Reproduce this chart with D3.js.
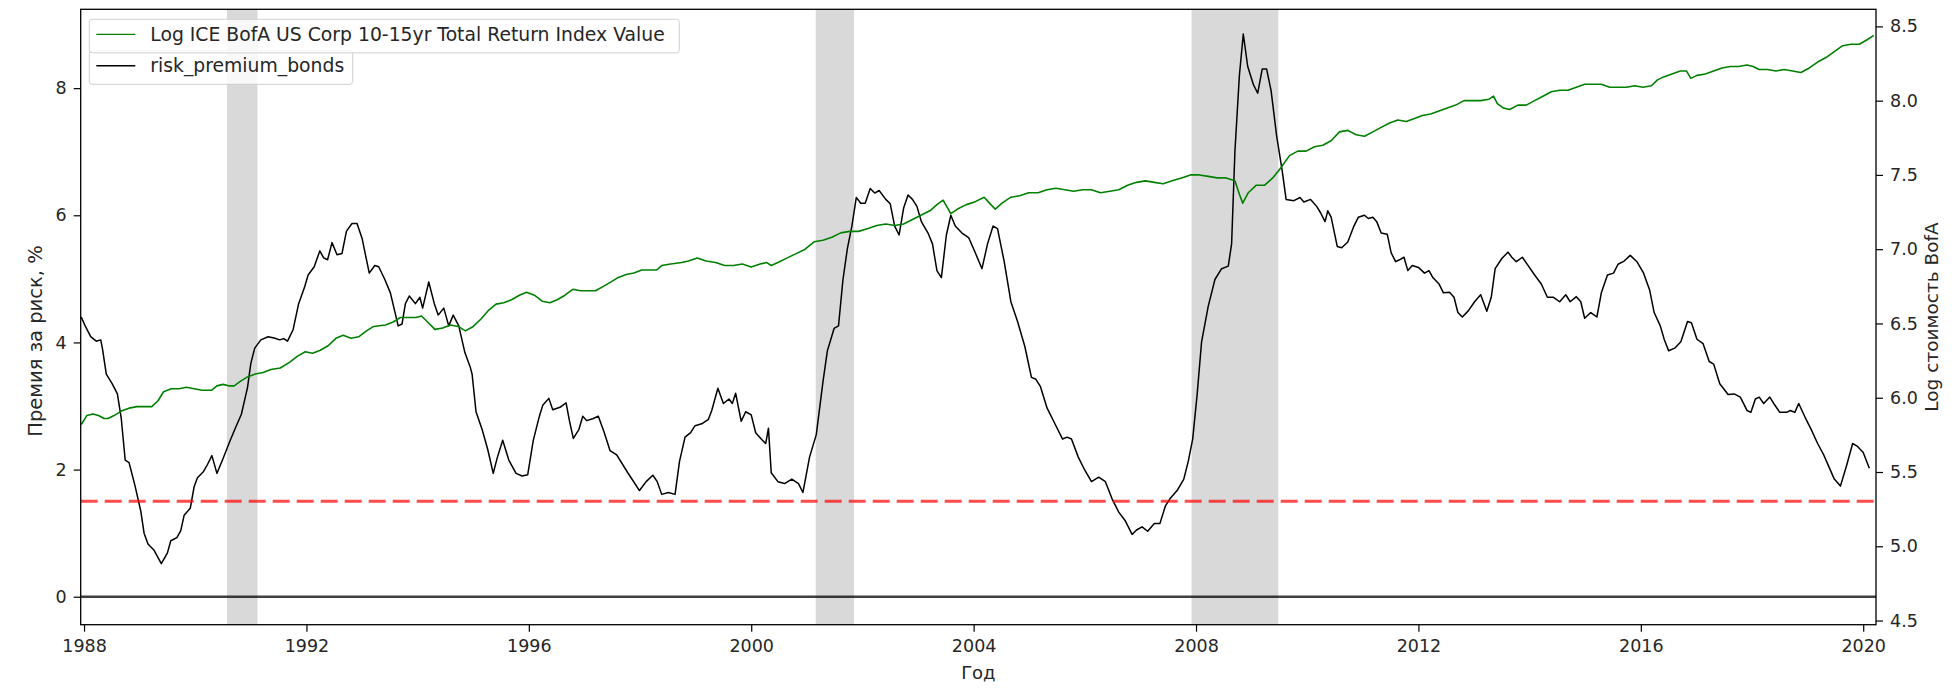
<!DOCTYPE html>
<html>
<head>
<meta charset="utf-8">
<script src="https://cdn.jsdelivr.net/npm/d3@7"></script>
<style>
    body { margin: 0; background: #fff; }
    svg text { font-family: "DejaVu Sans", sans-serif; fill: #262626; }
</style>
</head>
<body>
<svg id="chart_svg" width="1960" height="690"></svg>
<script>
"use strict"

const xTickYears = [1988, 1992, 1996, 2000, 2004, 2008, 2012, 2016, 2020];
const leftTicks = [0, 2, 4, 6, 8];
const rightTicks = [4.5, 5.0, 5.5, 6.0, 6.5, 7.0, 7.5, 8.0, 8.5];

// NBER recessions (decimal years)
const recessionStart = [1990.57, 2001.16, 2007.92];
const recessionEnd = [1991.12, 2001.85, 2009.48];

const premiumThreshold = 1.5;

// risk_premium_bonds, % : [year, value]
const riskPremium = [
    [1987.95, 4.40], [1988.02, 4.26], [1988.12, 4.09], [1988.22, 4.02], [1988.30, 4.04], [1988.33, 3.91],
    [1988.40, 3.50], [1988.50, 3.36], [1988.60, 3.19], [1988.67, 2.80], [1988.74, 2.15], [1988.81, 2.11],
    [1988.91, 1.77], [1989.02, 1.35], [1989.08, 1.00], [1989.15, 0.83], [1989.26, 0.73], [1989.39, 0.52],
    [1989.50, 0.69], [1989.56, 0.88], [1989.67, 0.93], [1989.74, 1.04], [1989.80, 1.28], [1989.91, 1.39],
    [1989.98, 1.73], [1990.04, 1.87], [1990.15, 1.97], [1990.22, 2.08], [1990.30, 2.22], [1990.39, 1.94],
    [1990.49, 2.15], [1990.63, 2.46], [1990.73, 2.67], [1990.83, 2.87], [1990.94, 3.29], [1991.00, 3.67],
    [1991.07, 3.91], [1991.18, 4.04], [1991.31, 4.09], [1991.42, 4.07], [1991.52, 4.04], [1991.59, 4.06],
    [1991.66, 4.02], [1991.76, 4.20], [1991.86, 4.61], [1991.97, 4.88], [1992.03, 5.06], [1992.14, 5.19],
    [1992.24, 5.44], [1992.31, 5.33], [1992.38, 5.30], [1992.46, 5.57], [1992.55, 5.38], [1992.64, 5.40],
    [1992.72, 5.75], [1992.82, 5.87], [1992.91, 5.87], [1993.00, 5.64], [1993.13, 5.09], [1993.23, 5.21],
    [1993.30, 5.19], [1993.41, 4.99], [1993.51, 4.78], [1993.65, 4.26], [1993.72, 4.29], [1993.78, 4.61],
    [1993.85, 4.73], [1993.96, 4.61], [1994.04, 4.71], [1994.09, 4.54], [1994.20, 4.95], [1994.30, 4.61],
    [1994.37, 4.43], [1994.47, 4.54], [1994.56, 4.26], [1994.64, 4.43], [1994.74, 4.26], [1994.85, 3.84],
    [1994.95, 3.60], [1994.98, 3.50], [1995.05, 2.91], [1995.16, 2.63], [1995.26, 2.32], [1995.36, 1.94],
    [1995.43, 2.18], [1995.53, 2.46], [1995.64, 2.15], [1995.77, 1.94], [1995.88, 1.90], [1995.98, 1.92],
    [1996.08, 2.46], [1996.19, 2.84], [1996.25, 3.01], [1996.36, 3.12], [1996.43, 2.94], [1996.56, 2.98],
    [1996.67, 3.05], [1996.73, 2.77], [1996.80, 2.49], [1996.90, 2.63], [1996.97, 2.84], [1997.04, 2.77],
    [1997.15, 2.80], [1997.25, 2.84], [1997.35, 2.60], [1997.46, 2.30], [1997.58, 2.23], [1997.78, 1.95],
    [1997.99, 1.67], [1998.11, 1.81], [1998.23, 1.91], [1998.31, 1.81], [1998.39, 1.61], [1998.51, 1.64],
    [1998.63, 1.61], [1998.71, 2.13], [1998.81, 2.51], [1998.91, 2.58], [1998.99, 2.69], [1999.11, 2.72],
    [1999.23, 2.79], [1999.29, 2.93], [1999.40, 3.28], [1999.50, 3.04], [1999.60, 3.11], [1999.66, 3.04],
    [1999.72, 3.20], [1999.82, 2.76], [1999.90, 2.91], [2000.00, 2.86], [2000.08, 2.58], [2000.18, 2.48],
    [2000.26, 2.41], [2000.31, 2.65], [2000.36, 1.95], [2000.48, 1.81], [2000.60, 1.78], [2000.73, 1.85],
    [2000.85, 1.78], [2000.93, 1.64], [2001.05, 2.20], [2001.17, 2.55], [2001.29, 3.38], [2001.37, 3.87],
    [2001.49, 4.22], [2001.57, 4.26], [2001.65, 4.99], [2001.73, 5.48], [2001.81, 5.83], [2001.89, 6.28],
    [2001.97, 6.19], [2002.05, 6.19], [2002.14, 6.42], [2002.22, 6.35], [2002.30, 6.39], [2002.42, 6.25],
    [2002.50, 6.18], [2002.58, 5.83], [2002.66, 5.69], [2002.74, 6.11], [2002.82, 6.32], [2002.90, 6.25],
    [2002.98, 6.14], [2003.06, 5.90], [2003.18, 5.72], [2003.26, 5.55], [2003.34, 5.13], [2003.42, 5.02],
    [2003.51, 5.69], [2003.59, 6.00], [2003.67, 5.83], [2003.79, 5.72], [2003.91, 5.65], [2004.03, 5.41],
    [2004.15, 5.16], [2004.25, 5.55], [2004.35, 5.83], [2004.43, 5.79], [2004.55, 5.27], [2004.67, 4.64],
    [2004.79, 4.33], [2004.92, 3.94], [2005.04, 3.45], [2005.12, 3.42], [2005.20, 3.31], [2005.32, 2.97],
    [2005.48, 2.69], [2005.60, 2.48], [2005.68, 2.51], [2005.76, 2.48], [2005.88, 2.20], [2006.00, 1.99],
    [2006.12, 1.81], [2006.25, 1.88], [2006.37, 1.81], [2006.49, 1.54], [2006.61, 1.33], [2006.73, 1.19],
    [2006.85, 0.98], [2006.93, 1.05], [2007.03, 1.10], [2007.13, 1.03], [2007.25, 1.15], [2007.35, 1.15],
    [2007.45, 1.43], [2007.53, 1.54], [2007.66, 1.67], [2007.78, 1.85], [2007.86, 2.13], [2007.94, 2.48],
    [2008.02, 3.18], [2008.10, 4.01], [2008.22, 4.57], [2008.34, 4.99], [2008.46, 5.16], [2008.58, 5.20],
    [2008.64, 5.55], [2008.70, 7.01], [2008.78, 8.20], [2008.85, 8.85], [2008.93, 8.34], [2009.03, 8.06],
    [2009.11, 7.92], [2009.19, 8.30], [2009.27, 8.30], [2009.35, 7.96], [2009.45, 7.25], [2009.55, 6.70],
    [2009.62, 6.25], [2009.76, 6.23], [2009.87, 6.28], [2009.94, 6.21], [2010.06, 6.25], [2010.17, 6.14],
    [2010.24, 6.04], [2010.32, 5.90], [2010.37, 6.07], [2010.43, 5.97], [2010.54, 5.51], [2010.62, 5.49],
    [2010.73, 5.58], [2010.84, 5.83], [2010.92, 5.97], [2011.03, 6.00], [2011.10, 5.95], [2011.18, 5.97],
    [2011.25, 5.90], [2011.33, 5.72], [2011.44, 5.70], [2011.51, 5.41], [2011.59, 5.27], [2011.66, 5.30],
    [2011.74, 5.34], [2011.81, 5.13], [2011.89, 5.21], [2012.00, 5.18], [2012.11, 5.09], [2012.19, 5.13],
    [2012.26, 5.02], [2012.37, 4.92], [2012.45, 4.78], [2012.56, 4.79], [2012.64, 4.71], [2012.71, 4.47],
    [2012.79, 4.40], [2012.90, 4.50], [2013.01, 4.64], [2013.12, 4.75], [2013.23, 4.49], [2013.31, 4.71],
    [2013.38, 5.16], [2013.50, 5.32], [2013.61, 5.42], [2013.68, 5.34], [2013.76, 5.27], [2013.87, 5.34],
    [2013.98, 5.20], [2014.09, 5.06], [2014.21, 4.92], [2014.32, 4.71], [2014.43, 4.71], [2014.54, 4.64],
    [2014.65, 4.75], [2014.73, 4.64], [2014.84, 4.72], [2014.92, 4.64], [2014.99, 4.38], [2015.10, 4.47],
    [2015.21, 4.40], [2015.29, 4.78], [2015.40, 5.06], [2015.51, 5.09], [2015.59, 5.23], [2015.70, 5.28],
    [2015.81, 5.37], [2015.93, 5.27], [2016.05, 5.09], [2016.16, 4.82], [2016.24, 4.47], [2016.35, 4.26],
    [2016.42, 4.05], [2016.50, 3.87], [2016.61, 3.91], [2016.72, 4.01], [2016.84, 4.33], [2016.91, 4.31],
    [2017.01, 4.05], [2017.12, 3.98], [2017.23, 3.70], [2017.31, 3.66], [2017.42, 3.35], [2017.57, 3.18],
    [2017.68, 3.19], [2017.79, 3.14], [2017.91, 2.93], [2017.98, 2.90], [2018.06, 3.11], [2018.13, 3.14],
    [2018.21, 3.04], [2018.32, 3.14], [2018.39, 3.04], [2018.50, 2.90], [2018.62, 2.90], [2018.69, 2.93],
    [2018.77, 2.90], [2018.84, 3.04], [2018.95, 2.83], [2019.07, 2.62], [2019.18, 2.41], [2019.29, 2.23],
    [2019.36, 2.09], [2019.48, 1.85], [2019.59, 1.74], [2019.70, 2.06], [2019.81, 2.41], [2019.89, 2.37],
    [2020.00, 2.27], [2020.11, 2.02]
];

// Log ICE BofA US Corp 10-15yr Total Return Index Value : [year, value]
const bofaLog = [
    [1987.95, 5.82], [1988.05, 5.88], [1988.16, 5.89], [1988.26, 5.88], [1988.36, 5.86], [1988.43, 5.86],
    [1988.54, 5.88], [1988.67, 5.91], [1988.81, 5.93], [1988.95, 5.94], [1989.09, 5.94], [1989.22, 5.94],
    [1989.33, 5.98], [1989.43, 6.04], [1989.57, 6.06], [1989.71, 6.06], [1989.84, 6.07], [1989.98, 6.06],
    [1990.12, 6.05], [1990.29, 6.05], [1990.39, 6.08], [1990.50, 6.09], [1990.60, 6.08], [1990.70, 6.08],
    [1990.81, 6.11], [1990.94, 6.14], [1991.08, 6.16], [1991.22, 6.17], [1991.36, 6.19], [1991.53, 6.20],
    [1991.70, 6.24], [1991.84, 6.28], [1991.98, 6.31], [1992.11, 6.30], [1992.25, 6.32], [1992.39, 6.35],
    [1992.53, 6.40], [1992.66, 6.42], [1992.80, 6.40], [1992.94, 6.41], [1993.08, 6.45], [1993.21, 6.48],
    [1993.42, 6.49], [1993.56, 6.51], [1993.69, 6.54], [1993.83, 6.54], [1993.97, 6.54], [1994.07, 6.55],
    [1994.18, 6.51], [1994.31, 6.46], [1994.45, 6.47], [1994.59, 6.49], [1994.73, 6.48], [1994.86, 6.45],
    [1995.00, 6.48], [1995.14, 6.53], [1995.28, 6.59], [1995.41, 6.63], [1995.55, 6.64], [1995.69, 6.66],
    [1995.83, 6.69], [1995.96, 6.71], [1996.10, 6.69], [1996.24, 6.65], [1996.38, 6.64], [1996.51, 6.66],
    [1996.65, 6.69], [1996.79, 6.73], [1996.93, 6.72], [1997.06, 6.72], [1997.20, 6.72], [1997.34, 6.75],
    [1997.48, 6.78], [1997.61, 6.81], [1997.75, 6.83], [1997.89, 6.84], [1998.03, 6.86], [1998.16, 6.86],
    [1998.30, 6.86], [1998.39, 6.89], [1998.55, 6.90], [1998.75, 6.91], [1998.87, 6.92], [1999.03, 6.94],
    [1999.19, 6.92], [1999.36, 6.91], [1999.52, 6.89], [1999.68, 6.89], [1999.84, 6.90], [2000.00, 6.88],
    [2000.16, 6.90], [2000.28, 6.91], [2000.36, 6.89], [2000.48, 6.91], [2000.64, 6.94], [2000.81, 6.97],
    [2000.97, 7.00], [2001.13, 7.05], [2001.29, 7.06], [2001.45, 7.08], [2001.61, 7.11], [2001.77, 7.12],
    [2001.93, 7.12], [2002.10, 7.14], [2002.26, 7.16], [2002.42, 7.17], [2002.58, 7.16], [2002.74, 7.17],
    [2002.90, 7.20], [2003.06, 7.23], [2003.22, 7.26], [2003.34, 7.30], [2003.45, 7.33], [2003.59, 7.24],
    [2003.71, 7.27], [2003.87, 7.30], [2004.03, 7.32], [2004.19, 7.35], [2004.31, 7.30], [2004.39, 7.27],
    [2004.51, 7.31], [2004.67, 7.35], [2004.83, 7.36], [2004.99, 7.38], [2005.16, 7.38], [2005.32, 7.40],
    [2005.48, 7.41], [2005.64, 7.40], [2005.80, 7.39], [2005.96, 7.40], [2006.12, 7.40], [2006.28, 7.38],
    [2006.45, 7.39], [2006.61, 7.40], [2006.77, 7.43], [2006.93, 7.45], [2007.09, 7.46], [2007.25, 7.45],
    [2007.41, 7.44], [2007.57, 7.46], [2007.74, 7.48], [2007.90, 7.50], [2008.06, 7.50], [2008.22, 7.49],
    [2008.38, 7.48], [2008.54, 7.48], [2008.70, 7.46], [2008.78, 7.37], [2008.84, 7.31], [2008.94, 7.38],
    [2009.08, 7.43], [2009.23, 7.43], [2009.38, 7.48], [2009.53, 7.55], [2009.68, 7.63], [2009.83, 7.66],
    [2009.98, 7.66], [2010.13, 7.69], [2010.28, 7.70], [2010.43, 7.73], [2010.58, 7.79], [2010.73, 7.80],
    [2010.88, 7.77], [2011.03, 7.76], [2011.18, 7.79], [2011.33, 7.82], [2011.48, 7.85], [2011.63, 7.87],
    [2011.78, 7.86], [2011.93, 7.88], [2012.07, 7.90], [2012.22, 7.91], [2012.37, 7.93], [2012.52, 7.95],
    [2012.67, 7.97], [2012.82, 8.00], [2012.97, 8.00], [2013.12, 8.00], [2013.27, 8.01], [2013.35, 8.03],
    [2013.42, 7.98], [2013.53, 7.95], [2013.64, 7.94], [2013.79, 7.97], [2013.94, 7.97], [2014.09, 8.00],
    [2014.24, 8.03], [2014.39, 8.06], [2014.54, 8.07], [2014.69, 8.07], [2014.84, 8.09], [2014.99, 8.11],
    [2015.14, 8.11], [2015.29, 8.11], [2015.44, 8.09], [2015.59, 8.09], [2015.74, 8.09], [2015.89, 8.10],
    [2016.04, 8.09], [2016.19, 8.10], [2016.30, 8.14], [2016.41, 8.16], [2016.56, 8.18], [2016.71, 8.20],
    [2016.82, 8.20], [2016.90, 8.15], [2017.01, 8.17], [2017.16, 8.18], [2017.31, 8.20], [2017.46, 8.22],
    [2017.61, 8.23], [2017.76, 8.23], [2017.91, 8.24], [2018.02, 8.23], [2018.13, 8.21], [2018.28, 8.21],
    [2018.43, 8.20], [2018.58, 8.21], [2018.73, 8.20], [2018.88, 8.19], [2019.03, 8.22], [2019.18, 8.26],
    [2019.33, 8.29], [2019.48, 8.33], [2019.63, 8.37], [2019.78, 8.38], [2019.93, 8.38], [2020.07, 8.41],
    [2020.19, 8.44]
];

const legendLabels = ["Log ICE BofA US Corp 10-15yr Total Return Index Value", "risk_premium_bonds"];
const legendColors = ["green", "black"];

class RiskPremiumChart {
    constructor(svgId) {
        this.svg = d3.select(`#${svgId}`);
        this.left = 80.7;
        this.right = 1876;
        this.top = 9.3;
        this.bottom = 624.7;
        this.init();
    }

    init() {
        this.x = d3.scaleLinear().domain([1987.94, 2020.23]).range([this.left, this.right]);
        this.yLeft = d3.scaleLinear().domain([-0.44, 9.24]).range([this.bottom, this.top]);
        this.yRight = d3.scaleLinear().domain([4.472, 8.615]).range([this.bottom, this.top]);

        this.svg.append("clipPath").attr("id", "plot_clip")
            .append("rect")
            .attr("x", this.left).attr("y", this.top)
            .attr("width", this.right - this.left).attr("height", this.bottom - this.top);

        this.plot = this.svg.append("g").attr("clip-path", "url(#plot_clip)");

        this.drawRecessions();
        this.drawLines();
        this.drawAxes();
        this.drawLegends();
    }

    drawRecessions() {
        this.plot.selectAll(".recession")
            .data(d3.zip(recessionStart, recessionEnd))
            .enter().append("rect")
            .attr("class", "recession")
            .attr("x", d => this.x(d[0]))
            .attr("width", d => this.x(d[1]) - this.x(d[0]))
            .attr("y", this.top)
            .attr("height", this.bottom - this.top)
            .style("fill", "grey")
            .style("opacity", 0.3);
    }

    drawLines() {
        const premiumLine = d3.line()
            .x(d => this.x(d[0]))
            .y(d => this.yLeft(d[1]));

        this.plot.append("path")
            .datum(riskPremium)
            .attr("d", premiumLine)
            .attr("fill", "none")
            .attr("stroke", "black")
            .attr("stroke-width", 1.5)
            .attr("stroke-linejoin", "round");

        // threshold and zero lines
        this.plot.append("line")
            .attr("x1", this.left).attr("x2", this.right)
            .attr("y1", this.yLeft(premiumThreshold)).attr("y2", this.yLeft(premiumThreshold))
            .attr("stroke", "red")
            .attr("stroke-opacity", 0.7)
            .attr("stroke-width", 3)
            .attr("stroke-dasharray", "17,7");

        this.plot.append("line")
            .attr("x1", this.left).attr("x2", this.right)
            .attr("y1", this.yLeft(0)).attr("y2", this.yLeft(0))
            .attr("stroke", "black")
            .attr("stroke-opacity", 0.75)
            .attr("stroke-width", 2.6);

        const bofaLine = d3.line()
            .x(d => this.x(d[0]))
            .y(d => this.yRight(d[1]));

        this.plot.append("path")
            .datum(bofaLog)
            .attr("d", bofaLine)
            .attr("fill", "none")
            .attr("stroke", "green")
            .attr("stroke-width", 1.6)
            .attr("stroke-linejoin", "round");
    }

    styleAxis(g) {
        g.select(".domain").remove();
        g.selectAll(".tick line").attr("stroke", "black").attr("stroke-width", 1.2);
        g.selectAll(".tick text")
            .style("font-family", "DejaVu Sans, sans-serif")
            .style("font-size", "17.5px")
            .style("fill", "#262626");
    }

    drawAxes() {
        this.svg.append("g")
            .attr("transform", `translate(0, ${this.bottom})`)
            .call(d3.axisBottom(this.x).tickValues(xTickYears).tickFormat(d3.format("d")).tickSize(7).tickPadding(8))
            .call(g => this.styleAxis(g));

        this.svg.append("g")
            .attr("transform", `translate(${this.left}, 0)`)
            .call(d3.axisLeft(this.yLeft).tickValues(leftTicks).tickFormat(d3.format("d")).tickSize(7).tickPadding(7))
            .call(g => this.styleAxis(g));

        this.svg.append("g")
            .attr("transform", `translate(${this.right}, 0)`)
            .call(d3.axisRight(this.yRight).tickValues(rightTicks).tickFormat(d3.format(".1f")).tickSize(7).tickPadding(7))
            .call(g => this.styleAxis(g));

        this.svg.append("rect")
            .attr("x", this.left).attr("y", this.top)
            .attr("width", this.right - this.left).attr("height", this.bottom - this.top)
            .attr("fill", "none")
            .attr("stroke", "black")
            .attr("stroke-width", 1.3);

        const midY = (this.top + this.bottom) / 2;

        this.svg.append("text")
            .attr("transform", `translate(42, ${midY + 24}) rotate(-90)`)
            .attr("text-anchor", "middle")
            .style("font-size", "19.5px")
            .text("Премия за риск, %");

        this.svg.append("text")
            .attr("transform", `translate(1938, ${midY}) rotate(-90)`)
            .attr("text-anchor", "middle")
            .style("font-size", "18.5px")
            .text("Log стоимость BofA");

        this.svg.append("text")
            .attr("x", (this.left + this.right) / 2)
            .attr("y", 679)
            .attr("text-anchor", "middle")
            .style("font-size", "18px")
            .text("Год");
    }

    drawLegends() {
        // two separate legend boxes, the black one drawn first
        const boxes = [
            { top: 50.7, width: 263.4 },
            { top: 19.3, width: 590 }
        ];
        [1, 0].forEach((idx, k) => {
            const box = boxes[k];
            const g = this.svg.append("g").attr("transform", `translate(89.3, ${box.top})`);
            g.append("rect")
                .attr("width", box.width).attr("height", 33.6)
                .attr("rx", 3).attr("ry", 3)
                .attr("fill", "white").attr("fill-opacity", 0.8)
                .attr("stroke", "#d0d0d0").attr("stroke-width", 1);
            g.append("line")
                .attr("x1", 7).attr("x2", 46)
                .attr("y1", 15).attr("y2", 15)
                .attr("stroke", legendColors[idx])
                .attr("stroke-width", idx === 0 ? 1.3 : 1.6);
            g.append("text")
                .attr("x", 61).attr("y", 21.8)
                .style("font-size", "18.8px")
                .text(legendLabels[idx]);
        });
    }
}

document.addEventListener("DOMContentLoaded", () => {
    new RiskPremiumChart("chart_svg");
});
</script>
</body>
</html>
